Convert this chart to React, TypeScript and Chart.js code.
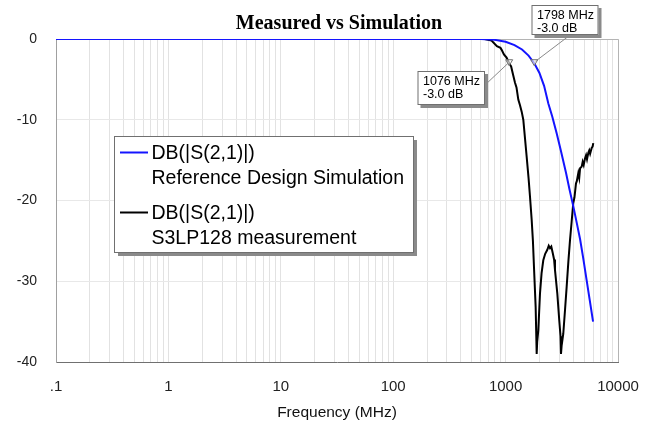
import React, { useEffect, useRef } from 'react';
import { Chart, registerables } from 'chart.js';

Chart.register(...registerables);

const TITLE = 'Measured vs Simulation';
const X_TITLE = 'Frequency (MHz)';

const xTickValues = [0.1, 1, 10, 100, 1000, 10000];
const xTickLabels = ['.1', '1', '10', '100', '1000', '10000'];
const yTickValues = [0, -10, -20, -30, -40];

const seriesNames = ['DB(|S(2,1)|)', 'DB(|S(2,1)|)'];
const seriesSubtitles = ['Reference Design Simulation', 'S3LP128 measurement'];
const seriesColors = ['#1414ff', '#000000'];

// Reference design simulation
const simFreq = [0.1, 1, 10, 100, 600, 800, 1000, 1200, 1400, 1600, 1800, 2000, 2200, 2400, 2600, 2850, 3100, 3450, 3700, 4000, 4300, 4600, 4900, 5250, 5600, 6000];
const simDb = [0, 0, 0, 0, 0, -0.1, -0.35, -0.75, -1.3, -2.05, -3.0, -4.2, -5.8, -8.0, -9.6, -11.7, -13.8, -16.6, -18.6, -20.7, -22.8, -24.8, -27.1, -29.8, -32.3, -35.0];

// S3LP128 measurement
const measFreq = [0.1, 1, 10, 100, 500, 650, 750, 837, 900, 927, 966, 1020, 1076, 1120, 1160, 1211, 1250, 1297, 1343, 1390, 1437, 1490, 1540, 1600, 1648, 1706, 1750, 1788, 1851, 1890, 1910, 1954, 2023, 2090, 2164, 2250, 2350, 2420, 2484, 2550, 2626, 2700, 2750, 2884, 3000, 3080, 3110, 3150, 3260, 3380, 3493, 3620, 3741, 3870, 4000, 4100, 4227, 4300, 4434, 4520, 4600, 4753, 4850, 4950, 5085, 5200, 5300, 5445, 5550, 5650, 5833, 5950, 6026];
const measDb = [0, 0, 0, 0, 0, 0, -0.2, -0.9, -1.1, -1.4, -1.9, -2.3, -3.0, -3.4, -4.3, -5.4, -6.0, -7.5, -8.2, -9.0, -10.0, -12.4, -14.6, -17.2, -19.5, -22.4, -25.0, -28.2, -33.2, -39.0, -37.5, -36.1, -31.5, -29.0, -27.4, -26.6, -26.1, -25.6, -25.9, -25.7, -26.5, -27.3, -28.6, -31.5, -34.8, -36.8, -39.0, -38.0, -36.5, -33.5, -30.7, -27.5, -24.9, -22.6, -20.3, -19.6, -17.9, -17.6, -16.6, -17.2, -16.0, -15.8, -15.2, -15.6, -14.8, -14.4, -14.9, -14.1, -13.8, -14.2, -13.5, -13.3, -12.9];

const markerFreq = [1798, 1076];
const markerDb = [-3.0, -3.0];
const markerLines = [['1798 MHz', '-3.0 dB'], ['1076 MHz', '-3.0 dB']];

const SANS = 'Arial, "Liberation Sans", sans-serif';
const SERIF = '"Times New Roman", "Liberation Serif", serif';

const gridValues: number[] = [];
for (let e = -1; e <= 3; e++) {
  for (let m = 1; m <= 9; m++) gridValues.push(parseFloat((m * Math.pow(10, e)).toPrecision(3)));
}
gridValues.push(10000);

// annotation box layouts: [left, top, width, height, lineFromX, lineFromY]
const annoLayout = [
  [531.5, 5, 67, 30, 569.5, 35.5],
  [417.5, 71, 67.5, 34, 485, 85],
];

const overlayPlugin = {
  id: 'overlay',
  beforeDraw(chart: any) {
    const ctx = chart.ctx;
    ctx.save();
    ctx.fillStyle = '#ffffff';
    ctx.fillRect(0, 0, chart.width, chart.height);
    ctx.restore();
  },
  beforeDatasetsDraw(chart: any) {
    const { ctx, chartArea } = chart;
    ctx.save();
    ctx.strokeStyle = '#b4b4b4';
    ctx.lineWidth = 1;
    ctx.beginPath();
    ctx.moveTo(chartArea.left, chartArea.top + 0.5);
    ctx.lineTo(chartArea.right + 0.5, chartArea.top + 0.5);
    ctx.lineTo(chartArea.right + 0.5, chartArea.bottom);
    ctx.stroke();
    ctx.restore();
  },
  afterDraw(chart: any) {
    const { ctx, chartArea } = chart;
    const xs = chart.scales.x;
    const ys = chart.scales.y;
    ctx.save();
    // title
    ctx.fillStyle = '#000';
    ctx.font = `bold 20px ${SERIF}`;
    ctx.textAlign = 'center';
    ctx.textBaseline = 'alphabetic';
    ctx.fillText(TITLE, (chartArea.left + chartArea.right) / 2 + 2, 28.5);
    // x title
    ctx.font = `15.5px ${SANS}`;
    ctx.fillStyle = '#111';
    ctx.fillText(X_TITLE, (chartArea.left + chartArea.right) / 2, 416.5);

    // legend box
    const lx = 114, ly = 136, lw = 299, lh = 116;
    ctx.fillStyle = '#8a8a8a';
    ctx.fillRect(lx + 4, ly + 4, lw, lh);
    ctx.fillStyle = '#fff';
    ctx.fillRect(lx, ly, lw, lh);
    ctx.strokeStyle = '#707070';
    ctx.lineWidth = 1;
    ctx.strokeRect(lx + 0.5, ly + 0.5, lw, lh);
    ctx.font = `19.5px ${SANS}`;
    ctx.textAlign = 'left';
    ctx.textBaseline = 'middle';
    const rows = [152.5, 212.5];
    for (let i = 0; i < 2; i++) {
      ctx.strokeStyle = seriesColors[i];
      ctx.lineWidth = 2;
      ctx.beginPath();
      ctx.moveTo(120, rows[i]);
      ctx.lineTo(148, rows[i]);
      ctx.stroke();
      ctx.fillStyle = '#000';
      ctx.fillText(seriesNames[i], 151.5, rows[i] + 1);
      ctx.fillText(seriesSubtitles[i], 151.5, rows[i] + 26);
    }

    // markers + annotations
    for (let i = 0; i < markerFreq.length; i++) {
      const px = xs.getPixelForValue(markerFreq[i]);
      const py = ys.getPixelForValue(markerDb[i]);
      const [bx, by, bw, bh, fx, fy] = annoLayout[i];
      ctx.strokeStyle = '#8a8a8a';
      ctx.lineWidth = 1;
      ctx.beginPath();
      ctx.moveTo(fx, fy);
      ctx.lineTo(px, py - 1);
      ctx.stroke();
      ctx.strokeStyle = '#707070';
      ctx.fillStyle = 'rgba(255,255,255,0.6)';
      ctx.beginPath();
      ctx.moveTo(px - 3.5, py - 3.5);
      ctx.lineTo(px + 3.5, py - 3.5);
      ctx.lineTo(px, py + 2.5);
      ctx.closePath();
      ctx.fill();
      ctx.stroke();
      ctx.fillStyle = '#8a8a8a';
      ctx.fillRect(bx + 3, by + 3, bw, bh);
      ctx.fillStyle = '#fff';
      ctx.fillRect(bx, by, bw, bh);
      ctx.strokeStyle = '#707070';
      ctx.strokeRect(bx + 0.5, by + 0.5, bw - 1, bh - 1);
      ctx.fillStyle = '#000';
      ctx.font = `12.5px ${SANS}`;
      ctx.textAlign = 'left';
      ctx.textBaseline = 'middle';
      ctx.fillText(markerLines[i][0], bx + 5.5, by + 10.5);
      ctx.fillText(markerLines[i][1], bx + 5.5, by + 24);
    }
    ctx.restore();
  },
};

export default function App() {
  const ref = useRef<HTMLCanvasElement | null>(null);
  useEffect(() => {
    if (!ref.current) return;
    const chart = new Chart(ref.current, {
      type: 'line',
      data: {
        datasets: [
          {
            label: seriesSubtitles[0],
            data: simFreq.map((f, i) => ({ x: f, y: simDb[i] })),
            borderColor: seriesColors[0],
            borderWidth: 2,
            pointRadius: 0,
            fill: false,
            tension: 0,
          },
          {
            label: seriesSubtitles[1],
            data: measFreq.map((f, i) => ({ x: f, y: measDb[i] })),
            borderColor: seriesColors[1],
            borderWidth: 2,
            pointRadius: 0,
            fill: false,
            tension: 0,
          },
        ],
      },
      options: {
        animation: false,
        responsive: false,
        layout: { padding: { top: 39, right: 38, left: 0, bottom: 0 } },
        plugins: {
          legend: { display: false },
          title: { display: false },
          tooltip: { enabled: false },
        },
        scales: {
          x: {
            type: 'logarithmic',
            min: 0.1,
            max: 10000,
            afterBuildTicks: (scale: any) => {
              scale.ticks = gridValues.map((v) => ({ value: v }));
            },
            afterFit: (scale: any) => {
              scale.height = 62;
            },
            ticks: {
              autoSkip: false,
              maxRotation: 0,
              padding: 16,
              color: '#222',
              font: { family: SANS, size: 15 },
              callback: (value: any) => {
                const idx = xTickValues.findIndex((v) => Math.abs(Math.log10(v) - Math.log10(Number(value))) < 1e-6);
                return idx >= 0 ? xTickLabels[idx] : '';
              },
            },
            grid: { color: '#e2e2e2', lineWidth: 1, drawTicks: false },
            border: { color: '#707070' },
          },
          y: {
            type: 'linear',
            min: -40,
            max: 0,
            afterBuildTicks: (scale: any) => {
              scale.ticks = yTickValues.map((v) => ({ value: v }));
            },
            afterFit: (scale: any) => {
              scale.width = 56;
            },
            ticks: {
              padding: 19,
              color: '#222',
              font: { family: SANS, size: 14 },
              callback: (value: any) => String(value),
            },
            grid: { color: '#e8e8e8', lineWidth: 1, drawTicks: false },
            border: { color: '#a0a0a0' },
          },
        },
      },
      plugins: [overlayPlugin],
    } as any);
    return () => chart.destroy();
  }, []);
  return (
    <div style={{ position: 'absolute', left: 0, top: 0, width: 656, height: 424 }}>
      <canvas ref={ref} width={656} height={424} style={{ display: 'block' }} />
    </div>
  );
}
